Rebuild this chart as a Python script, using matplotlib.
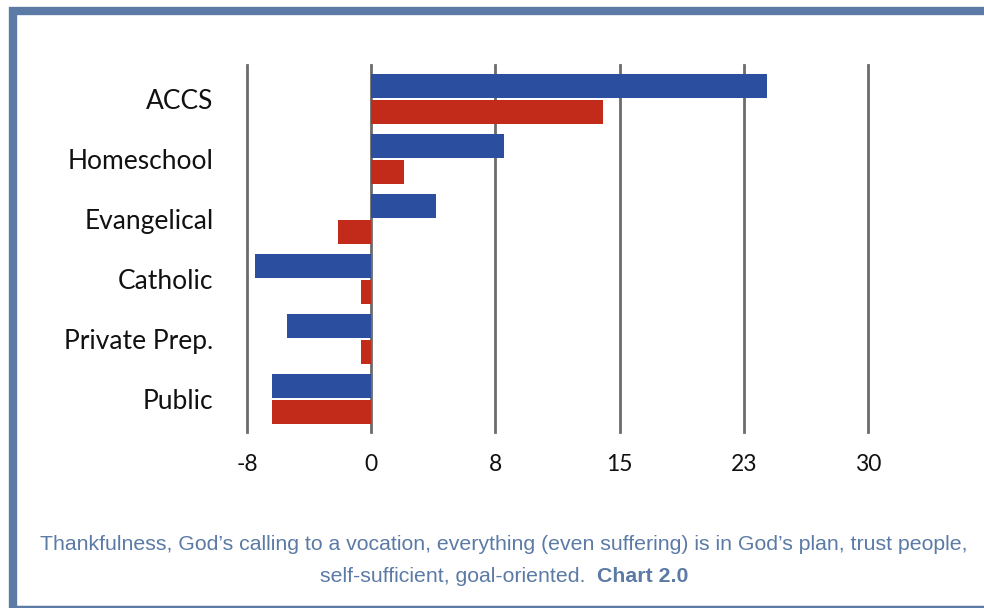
import numpy as np
import matplotlib.pyplot as plt
from matplotlib.lines import Line2D

kategorie = ["ACCS", "Homeschool", "Evangelical", "Catholic", "Private Prep.", "Public"]
modra = [23.9, 8.0, 3.9, -7.0, -5.1, -6.0]
cervena = [14.0, 2.0, -2.0, -0.6, -0.6, -6.0]
tick_hodnoty = [-7.5, 0, 7.5, 15, 22.5, 30]
tick_popisy = ["-8", "0", "8", "15", "23", "30"]

MODRA = "#2b4f9e"
CERVENA = "#c22a1a"
RAM = "#5b7aa5"

fig = plt.figure(figsize=(9.84, 6.08), dpi=100)
ax = fig.add_axes([247 / 984, 1 - 432 / 608, 621 / 984, 367 / 608])

y = np.arange(len(kategorie))
ax.barh(y - 0.215, modra, height=0.4, color=MODRA, zorder=3)
ax.barh(y + 0.215, cervena, height=0.4, color=CERVENA, zorder=3)

ax.set_xlim(-7.5, 30)
ax.set_ylim(len(kategorie) - 0.45, -0.56)
ax.set_xticks(tick_hodnoty)
ax.set_xticklabels(tick_popisy, fontsize=16.5, family="Lato", color="#111111")
ax.set_yticks(y)
ax.set_yticklabels(kategorie, fontsize=19, family="Lato", color="#111111")
ax.tick_params(length=0, pad=24, axis="y")
ax.tick_params(length=0, pad=16, axis="x")
for v in tick_hodnoty:
    ax.axvline(v, color="#6b6b6b", lw=2.0, zorder=2, clip_on=False)
for s in ax.spines.values():
    s.set_visible(False)

# ram okolo obrazku
W, H = 984, 608
fig.add_artist(Line2D([13 / W, 13 / W], [0, 1 - 6.5 / H], color=RAM, lw=6,
                      solid_capstyle="butt", transform=fig.transFigure))
fig.add_artist(Line2D([9 / W, 1], [1 - 10.5 / H, 1 - 10.5 / H], color=RAM, lw=6,
                      solid_capstyle="butt", transform=fig.transFigure))
fig.add_artist(Line2D([9 / W, 1], [1.5 / H, 1.5 / H], color=RAM, lw=2.5,
                      solid_capstyle="butt", transform=fig.transFigure))

# popis
fig.text(0.512, 1 - 545 / H, "Thankfulness, God\u2019s calling to a vocation, everything (even suffering) is in God\u2019s plan, trust people,",
         ha="center", va="center", fontsize=15.3, color=RAM, family="Liberation Sans")
fig.canvas.draw()
r = fig.canvas.get_renderer()
t1 = fig.text(0, 1 - 577 / H, "self-sufficient, goal-oriented.  ", ha="left", va="center",
              fontsize=15.3, color=RAM, family="Liberation Sans")
t2 = fig.text(0, 1 - 577 / H, "Chart 2.0", ha="left", va="center",
              fontsize=15.3, color=RAM, family="Liberation Sans", weight="bold")
w1 = t1.get_window_extent(r).width
w2 = t2.get_window_extent(r).width
x0 = (0.512 * W - (w1 + w2) / 2)
t1.set_x(x0 / W)
t2.set_x((x0 + w1) / W)

fig.savefig("out.png", dpi=100)
